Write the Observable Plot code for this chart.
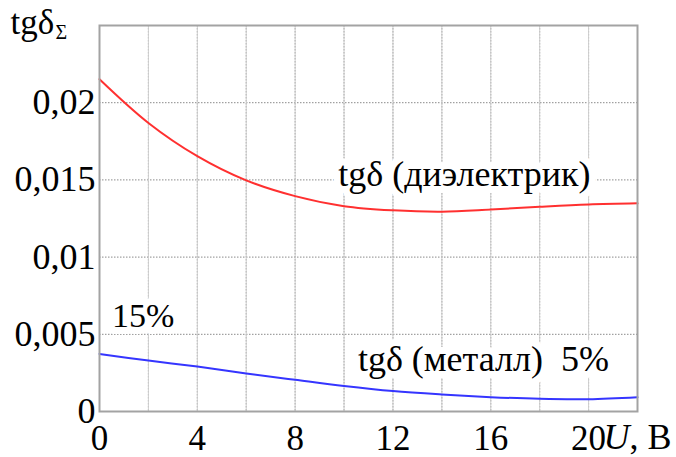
<!DOCTYPE html>
<html>
<head>
<meta charset="utf-8">
<script src="https://cdn.jsdelivr.net/npm/d3@7"></script>
<script src="https://cdn.jsdelivr.net/npm/@observablehq/plot@0.6"></script>
</head>
<body style="margin:0">
<div id="chart"></div>
<script>
// Voltage U, V
const voltage = [0, 2, 4, 6, 8, 10, 12, 14, 16, 18, 20, 22];
// tgδ dielectric (red)
const tgDielectric = [0.02152, 0.01869, 0.01654, 0.01497, 0.01395, 0.01330, 0.01303, 0.01294, 0.01308, 0.01326, 0.01341, 0.01348];
// tgδ metal (blue)
const tgMetal = [0.00373, 0.00330, 0.00291, 0.00246, 0.00205, 0.00165, 0.00132, 0.00110, 0.00093, 0.00082, 0.00080, 0.00093];

const xTickLabels = [0, 4, 8, 12, 16, 20];
const xGrid = [2, 4, 6, 8, 10, 12, 14, 16, 18, 20];
const yTicks = [0, 0.005, 0.01, 0.015, 0.02];

const dielData = voltage.map((u, i) => ({u, v: tgDielectric[i]}));
const metalData = voltage.map((u, i) => ({u, v: tgMetal[i]}));

const curveLabels = [
  {u: 14.92, v: 0.01538, text: "tgδ (диэлектрик)"},
  {u: 15.7, v: 0.0034, text: "tgδ (металл)  5%"}
];
const pctLabels = [{u: 0.51, v: 0.00615, text: "15%"}];

const fmt = d => String(d).replace(".", ",");
const F = "Liberation Serif";

const chart = Plot.plot({
  width: 676,
  height: 457,
  marginLeft: 99,
  marginRight: 39,
  marginTop: 25,
  marginBottom: 46,
  x: {domain: [0, 22], axis: null},
  y: {domain: [0, 0.025], axis: null},
  marks: [
    Plot.gridX(xGrid, {stroke: "#8a8a8a", strokeOpacity: 1, strokeDasharray: "1.5,1.5"}),
    Plot.gridY(yTicks.filter(d => d > 0), {stroke: "#8a8a8a", strokeOpacity: 1, strokeDasharray: "1.5,1.5"}),
    Plot.tickX(xGrid, {x: d => d, frameAnchor: "bottom", stroke: "#d0d0d0"}),
    Plot.text(xTickLabels, {x: d => d, frameAnchor: "bottom", dy: 14, lineAnchor: "top", text: fmt, fontFamily: F, fontSize: 35, fill: "#000"}),
    Plot.text(yTicks, {y: d => d, frameAnchor: "left", dx: -4, textAnchor: "end", lineAnchor: "middle", text: fmt, fontFamily: F, fontSize: 36, fill: "#000"}),
    Plot.text(curveLabels, {x: "u", y: "v", text: "text", textAnchor: "middle", lineAnchor: "middle",
      fontFamily: F, fontSize: 36, fill: "#000", stroke: "white", strokeWidth: 14}),
    Plot.text(pctLabels, {x: "u", y: "v", text: "text", textAnchor: "start", lineAnchor: "middle",
      fontFamily: F, fontSize: 34, fill: "#000", stroke: "white", strokeWidth: 14}),
    Plot.line(dielData, {x: "u", y: "v", stroke: "#ff3030", strokeWidth: 2, curve: "catmull-rom"}),
    Plot.line(metalData, {x: "u", y: "v", stroke: "#3535ff", strokeWidth: 2, curve: "catmull-rom"}),
    Plot.frame({stroke: "#a3a3a3", strokeWidth: 2}),
    // axis titles
    Plot.text(["tgδ"], {frameAnchor: "top-left", dx: -89, dy: 8, textAnchor: "start", lineAnchor: "bottom", fontFamily: F, fontSize: 35, fill: "#000"}),
    Plot.text(["Σ"], {frameAnchor: "top-left", dx: -44, dy: 13, textAnchor: "start", lineAnchor: "bottom", fontFamily: F, fontSize: 20, fill: "#000"}),
    Plot.text(["U"], {x: [20], y: [0], dx: 15, dy: 37, textAnchor: "start", lineAnchor: "bottom", fontFamily: F, fontSize: 36, fontStyle: "italic", fill: "#000"}),
    Plot.text([", В"], {x: [20], y: [0], dx: 41, dy: 37, textAnchor: "start", lineAnchor: "bottom", fontFamily: F, fontSize: 36, fill: "#000"})
  ]
});
document.getElementById("chart").appendChild(chart);
</script>
</body>
</html>
